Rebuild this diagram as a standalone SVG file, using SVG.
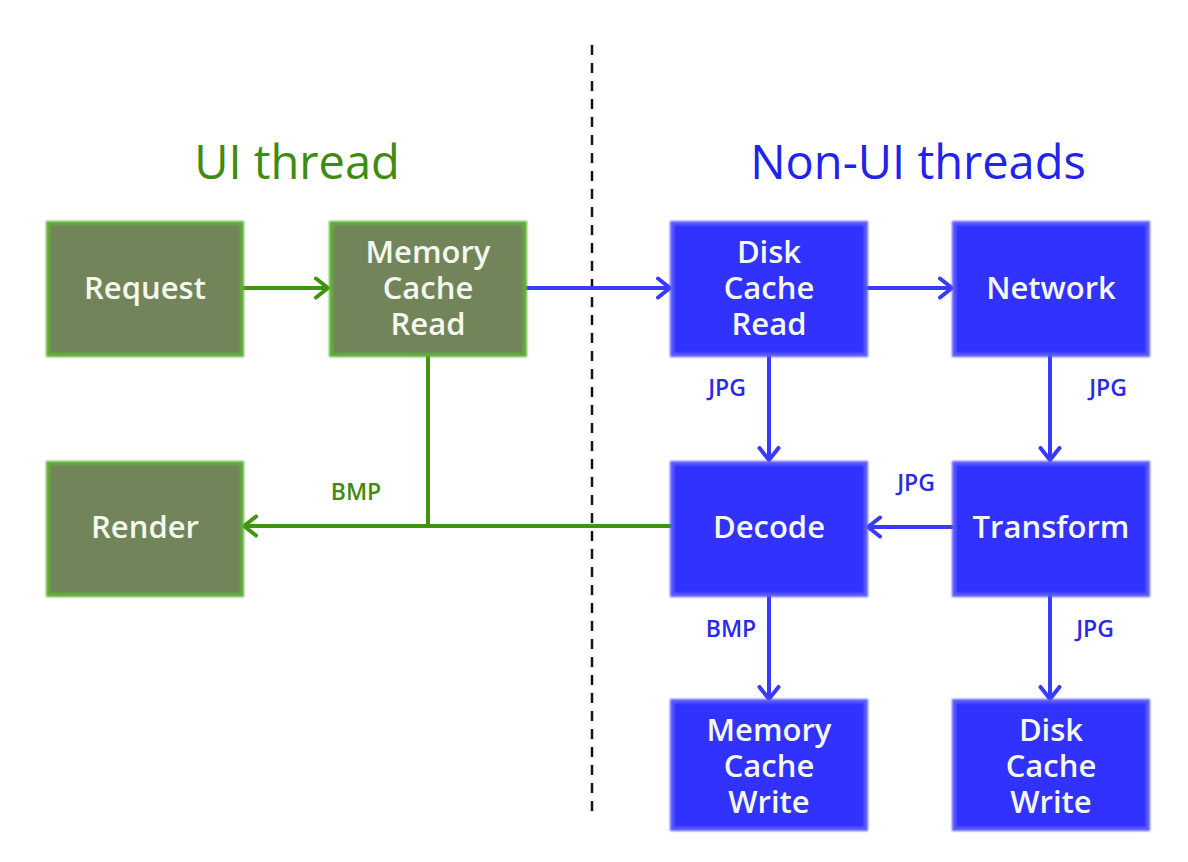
<svg xmlns="http://www.w3.org/2000/svg" width="1188" height="862" viewBox="0 0 1188 862">
<style>
.g rect{fill:#72855a;stroke:#5fae35;stroke-width:4}
.b rect{fill:#3333ff;stroke:#5a5aff;stroke-width:4}
.nt{font-family:"Open Sans","DejaVu Sans",sans-serif;font-weight:600;font-size:31px;fill:#f4f8ee;text-anchor:middle}
.lbl{font-family:"Open Sans","DejaVu Sans",sans-serif;font-weight:600;font-size:23px;text-anchor:middle}
.title{font-family:"Open Sans","DejaVu Sans",sans-serif;font-weight:500;font-size:47px;text-anchor:middle}
.gl{stroke:#3f9410;stroke-width:4;fill:none}
.bl{stroke:#3a3aff;stroke-width:4;fill:none}
</style>
<defs>
<filter id="glow" x="-10%" y="-10%" width="120%" height="120%"><feGaussianBlur stdDeviation="1.2"/></filter>
<marker id="ag" markerWidth="24" markerHeight="24" refX="14" refY="12" orient="auto" markerUnits="userSpaceOnUse"><path d="M2,2.5 L14,12 L2,21.5" fill="none" stroke="#3f9410" stroke-width="4" stroke-linecap="round" stroke-linejoin="round"/></marker>
<marker id="ab" markerWidth="24" markerHeight="24" refX="14" refY="12" orient="auto" markerUnits="userSpaceOnUse"><path d="M2,2.5 L14,12 L2,21.5" fill="none" stroke="#3a3aff" stroke-width="4" stroke-linecap="round" stroke-linejoin="round"/></marker>
</defs>
<rect width="1188" height="862" fill="#ffffff"/>
<line x1="592" y1="45" x2="592" y2="818" stroke="#111" stroke-width="2.5" stroke-dasharray="10,8"/>
<text class="title" x="297" y="179" fill="#3f8a10">UI thread</text>
<text class="title" x="918" y="179" fill="#2222ee">Non-UI threads</text>
<g id="connectors">
<line class="gl" x1="242" y1="288" x2="328" y2="288" marker-end="url(#ag)"/>
<line class="bl" x1="522" y1="288" x2="670" y2="288" marker-end="url(#ab)"/>
<line class="bl" x1="866" y1="288" x2="952" y2="288" marker-end="url(#ab)"/>
<line class="bl" x1="769" y1="355" x2="769" y2="460" marker-end="url(#ab)"/>
<line class="bl" x1="1050" y1="355" x2="1050" y2="460" marker-end="url(#ab)"/>
<line class="bl" x1="954" y1="527" x2="868" y2="527" marker-end="url(#ab)"/>
<line class="bl" x1="769" y1="595" x2="769" y2="699" marker-end="url(#ab)"/>
<line class="bl" x1="1050" y1="595" x2="1050" y2="699" marker-end="url(#ab)"/>
<line class="gl" x1="428" y1="355" x2="428" y2="526"/>
<line class="gl" x1="672" y1="526" x2="244" y2="526" marker-end="url(#ag)"/>
<text class="lbl" x="727" y="396" fill="#2a2ae6">JPG</text>
<text class="lbl" x="1108" y="396" fill="#2a2ae6">JPG</text>
<text class="lbl" x="916" y="491" fill="#2a2ae6">JPG</text>
<text class="lbl" x="731" y="637" fill="#2a2ae6">BMP</text>
<text class="lbl" x="1095" y="637" fill="#2a2ae6">JPG</text>
<text class="lbl" x="356" y="500" fill="#3f8a10">BMP</text>
</g>
<g id="request" class="g"><rect x="48" y="223" width="194" height="132" filter="url(#glow)"/><text class="nt" x="145" y="299">Request</text></g>
<g id="memory-cache-read" class="g"><rect x="331" y="223" width="194" height="132" filter="url(#glow)"/><text class="nt" x="428" y="263">Memory</text><text class="nt" x="428" y="299">Cache</text><text class="nt" x="428" y="335">Read</text></g>
<g id="render" class="g"><rect x="48" y="463" width="194" height="132" filter="url(#glow)"/><text class="nt" x="145" y="538">Render</text></g>
<g id="disk-cache-read" class="b"><rect x="672" y="223" width="194" height="132" filter="url(#glow)"/><text class="nt" x="769" y="263">Disk</text><text class="nt" x="769" y="299">Cache</text><text class="nt" x="769" y="335">Read</text></g>
<g id="network" class="b"><rect x="954" y="223" width="194" height="132" filter="url(#glow)"/><text class="nt" x="1051" y="299">Network</text></g>
<g id="decode" class="b"><rect x="672" y="463" width="194" height="132" filter="url(#glow)"/><text class="nt" x="769" y="538">Decode</text></g>
<g id="transform" class="b"><rect x="954" y="463" width="194" height="132" filter="url(#glow)"/><text class="nt" x="1051" y="538">Transform</text></g>
<g id="memory-cache-write" class="b"><rect x="672" y="701" width="194" height="128" filter="url(#glow)"/><text class="nt" x="769" y="741">Memory</text><text class="nt" x="769" y="777">Cache</text><text class="nt" x="769" y="813">Write</text></g>
<g id="disk-cache-write" class="b"><rect x="954" y="701" width="194" height="128" filter="url(#glow)"/><text class="nt" x="1051" y="741">Disk</text><text class="nt" x="1051" y="777">Cache</text><text class="nt" x="1051" y="813">Write</text></g>
</svg>
